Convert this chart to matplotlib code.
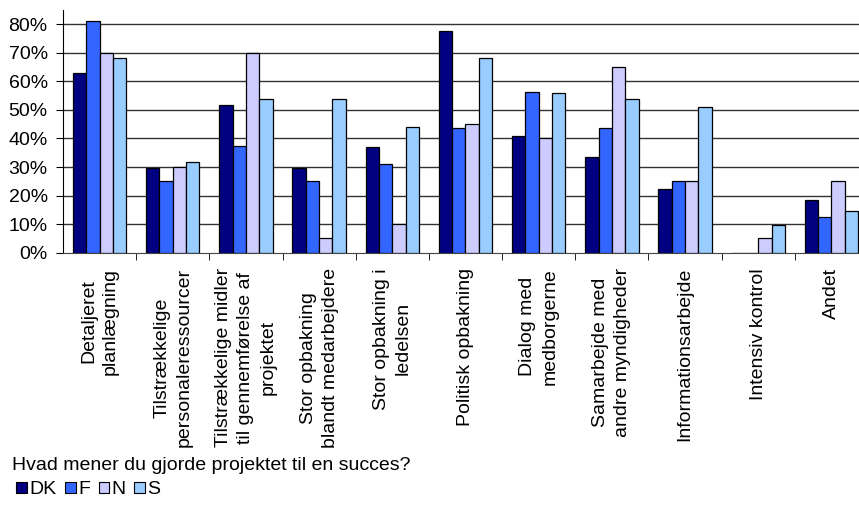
import numpy as np
import matplotlib.pyplot as plt
from matplotlib.patches import Patch

plt.rcParams['font.family'] = ['Liberation Sans', 'DejaVu Sans']

categories = [
    'Detaljeret\nplanlægning',
    'Tilstrækkelige\npersonaleressourcer',
    'Tilstrækkelige midler\ntil gennemførelse af\nprojektet',
    'Stor opbakning\nblandt medarbejdere',
    'Stor opbakning i\nledelsen',
    'Politisk opbakning',
    'Dialog med\nmedborgerne',
    'Samarbejde med\nandre myndigheder',
    'Informationsarbejde',
    'Intensiv kontrol',
    'Andet',
]

dk = [63.0, 29.6, 51.8, 29.6, 37.1, 77.7, 40.8, 33.4, 22.2, 0.0, 18.5]
f = [81.2, 25.0, 37.5, 25.0, 31.2, 43.7, 56.2, 43.7, 25.0, 0.0, 12.4]
n = [70.0, 30.0, 70.0, 5.0, 10.0, 45.0, 40.0, 65.0, 25.0, 5.0, 25.0]
s = [68.3, 31.6, 53.7, 53.7, 43.9, 68.2, 56.0, 53.7, 51.1, 9.6, 14.7]

series = ['DK', 'F', 'N', 'S']
colors = ['#000080', '#3366FF', '#CCCCFF', '#99CCFF']

fs = 14

fig = plt.figure(figsize=(8.59, 5.09), dpi=100)
ax = fig.add_axes([0.0733, 0.5035, 0.9372, 0.4769])

x = np.arange(len(categories))
w = 0.1825
for i, (vals, c) in enumerate(zip([dk, f, n, s], colors)):
    ax.bar(x + (i - 1.5) * w, np.array(vals) / 100, w, color=c,
           edgecolor='black', linewidth=0.9, zorder=3)

ax.set_xlim(-0.5, len(categories) - 0.5)
ax.set_ylim(0, 0.85)
ax.set_yticks(np.arange(0, 0.81, 0.1))
ax.set_yticklabels([f'{v}%' for v in range(0, 81, 10)], fontsize=fs)
for yv in np.arange(0.1, 0.81, 0.1):
    ax.axhline(yv, color='#333333', linewidth=1, zorder=1)

ax.set_xticks(x)
ax.set_xticklabels(categories, rotation=90, fontsize=fs, va='top',
                   ha='center', multialignment='center', linespacing=1.4)
ax.set_xticks(np.arange(0.5, len(categories) - 0.5, 1), minor=True)
ax.tick_params(axis='x', which='major', length=0, pad=11)
ax.tick_params(axis='x', which='minor', length=5, color='black', direction='out')
ax.tick_params(axis='y', length=5, direction='out', pad=6)

ax.spines['top'].set_visible(False)
ax.spines['right'].set_visible(False)
ax.spines['left'].set_color('black')
ax.spines['bottom'].set_color('#444444')

fig.text(12 / 859, 1 - 465 / 509, 'Hvad mener du gjorde projektet til en succes?',
         fontsize=fs, va='center', ha='left')

handles = [Patch(facecolor=c, edgecolor='black', linewidth=0.8, label=l)
           for c, l in zip(colors, series)]
fig.legend(handles=handles, loc='center left', ncol=4, frameon=False,
           bbox_to_anchor=(16 / 859, 1 - 490 / 509), fontsize=fs,
           handlelength=0.55, handleheight=0.55, handletextpad=0.12,
           columnspacing=0.45, borderaxespad=0, borderpad=0)

fig.savefig('out.png', dpi=100)
